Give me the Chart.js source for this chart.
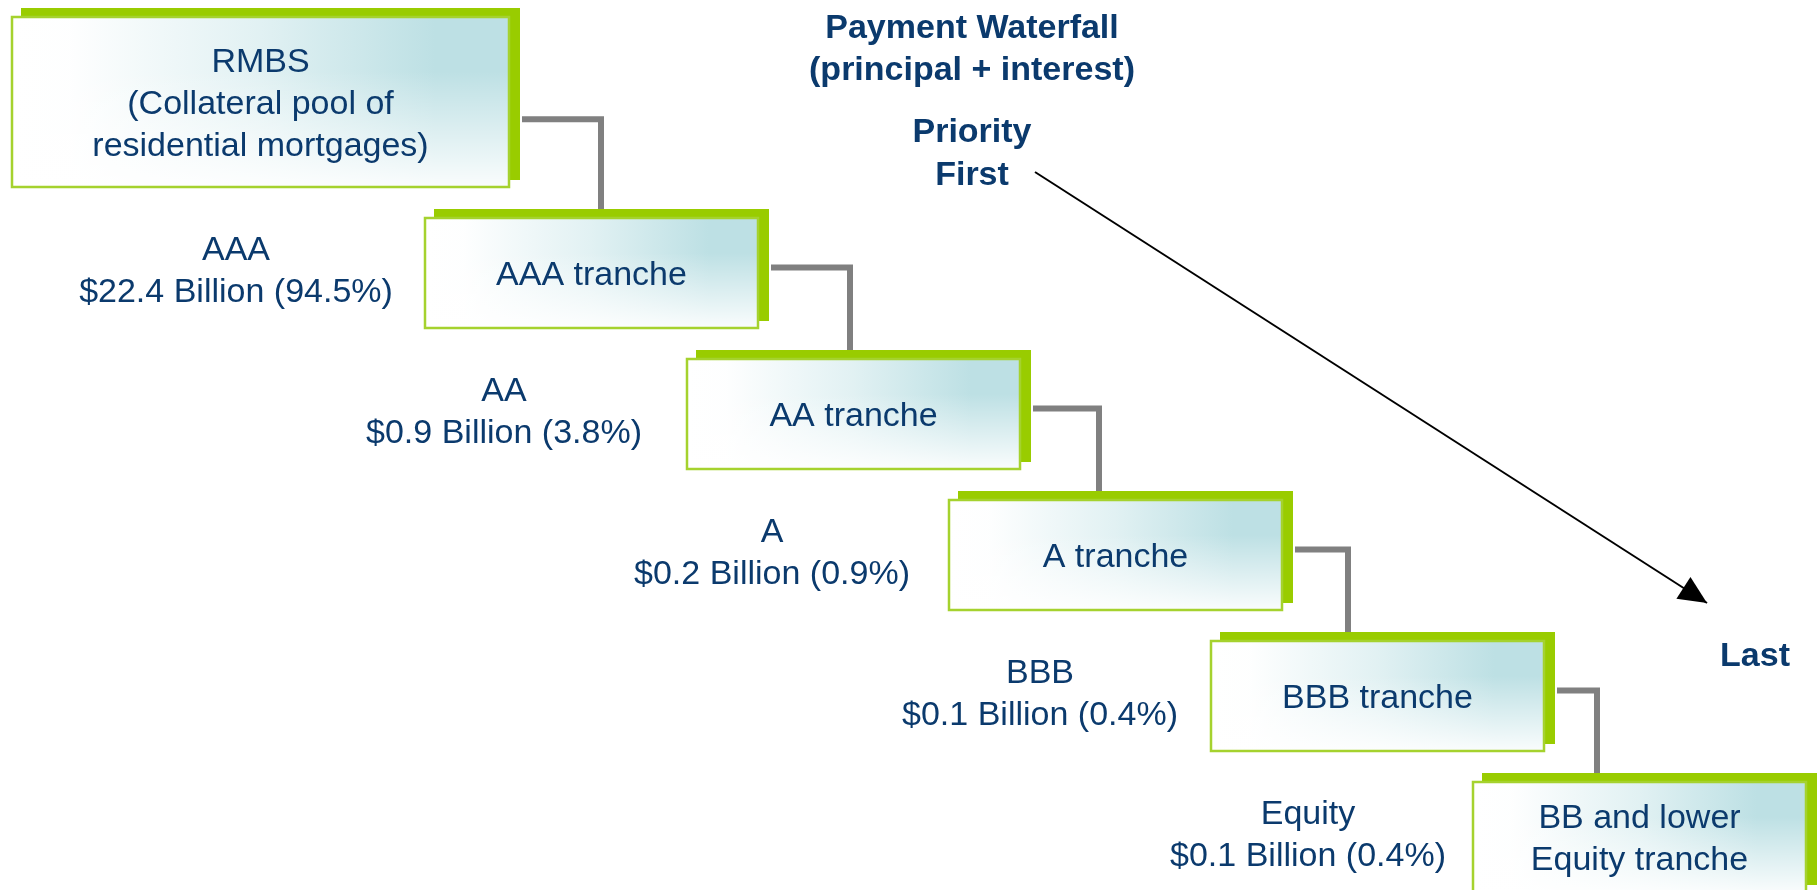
<!DOCTYPE html>
<html>
<head>
<meta charset="utf-8">
<script src="https://cdn.jsdelivr.net/npm/chart.js@4"></script>
<style>
  html, body { margin: 0; padding: 0; background: #ffffff; }
  #wrap { width: 1817px; height: 890px; position: relative; }
</style>
</head>
<body>
<div id="wrap"><canvas id="c"></canvas></div>
<script>
// ---------- DATA ----------
const titleLines = ['Payment Waterfall', '(principal + interest)'];
const priorityFirst = ['Priority', 'First'];
const priorityLast = 'Last';
const collateralLines = ['RMBS', '(Collateral pool of', 'residential mortgages)'];
const ratings = ['AAA', 'AA', 'A', 'BBB', 'Equity'];
const trancheNames = ['AAA tranche', 'AA tranche', 'A tranche', 'BBB tranche', 'BB and lower\nEquity tranche'];
const amountsBn = [22.4, 0.9, 0.2, 0.1, 0.1];
const sharesPct = [94.5, 3.8, 0.9, 0.4, 0.4];

// ---------- LAYOUT / STYLE (axis units = canvas units) ----------
const AXIS_W = 1817, AXIS_H = 890;
const POOL = { x: 11, y: 16, w: 499, h: 172, linkFrac: 0.6 };
const CASCADE = {
  x0: 424, y0: 217, stepX: 262, stepY: 141, w: 335, h: 112, linkFrac: 0.45,
  linkX0: 601, linkStepX: 249,
  labelX0: 236, labelStepX: 268, labelDY: -4
};
const SHADOW = { dx: 10, dy: -8 };
const LINE_GAP = 42, CAP_HALF = 12;
const TITLE_POS = { x: 972, y: 38 };
const PRIORITY_POS = { x: 972, y: 142 };
const LAST_POS = { x: 1755, y: 666 };
const ARROW = { from: { x: 1035, y: 172 }, to: { x: 1707, y: 603 }, head: 28, halfW: 13 };
const NAVY = '#0b3a6d', GREEN = '#99cc00', BORDER = '#a5d22e', LINK = '#808080';
const FONT = '"Liberation Sans", Arial, Helvetica, sans-serif';

// box geometry derived from tier index
function trancheBox(i) {
  return { x: CASCADE.x0 + i * CASCADE.stepX, y: CASCADE.y0 + i * CASCADE.stepY,
           w: CASCADE.w, h: CASCADE.h, linkFrac: CASCADE.linkFrac };
}
const boxes = [POOL].concat(ratings.map((_, i) => trancheBox(i)));

// connector polylines (through the chart's linear scales)
const connectorSets = [];
for (let k = 0; k < ratings.length; k++) {
  const a = boxes[k], b = boxes[k + 1];
  const sy = a.y + a.h * a.linkFrac;
  const sx = a.x + a.w + SHADOW.dx + 2;
  const vx = CASCADE.linkX0 + k * CASCADE.linkStepX;
  const ey = b.y + SHADOW.dy + 2;
  connectorSets.push({
    data: [{ x: sx, y: sy }, { x: vx, y: sy }, { x: vx, y: ey }],
    showLine: true, borderColor: LINK, borderWidth: 6, pointRadius: 0,
    borderJoinStyle: 'miter', borderCapStyle: 'butt', tension: 0, fill: false
  });
}
const arrowSet = {
  data: [ARROW.from, ARROW.to], showLine: true, borderColor: '#000000',
  borderWidth: 2, pointRadius: 0, tension: 0, fill: false
};

function drawBox(ctx, X, Y, w, h) {
  ctx.save();
  ctx.fillStyle = GREEN;
  ctx.fillRect(X + SHADOW.dx, Y + SHADOW.dy, w, h);
  ctx.fillStyle = '#ffffff';
  ctx.fillRect(X, Y, w, h);
  const g = ctx.createLinearGradient(X, 0, X + w, 0);
  g.addColorStop(0, 'rgba(189,224,228,0)');
  g.addColorStop(0.12, 'rgba(189,224,228,0.02)');
  g.addColorStop(0.5, 'rgba(189,224,228,0.45)');
  g.addColorStop(0.85, 'rgba(189,224,228,1)');
  g.addColorStop(1, 'rgba(189,224,228,1)');
  ctx.fillStyle = g;
  ctx.fillRect(X, Y, w, h);
  const v = ctx.createLinearGradient(0, Y, 0, Y + h);
  v.addColorStop(0, 'rgba(255,255,255,0)');
  v.addColorStop(0.32, 'rgba(255,255,255,0)');
  v.addColorStop(1, 'rgba(255,255,255,0.93)');
  ctx.fillStyle = v;
  ctx.fillRect(X, Y, w, h);
  ctx.strokeStyle = BORDER;
  ctx.lineWidth = 2.5;
  ctx.strokeRect(X + 1, Y + 1, w - 2, h - 2);
  ctx.restore();
}

function drawLines(ctx, lines, cx, cy, font) {
  ctx.font = font;
  ctx.fillStyle = NAVY;
  ctx.textAlign = 'center';
  ctx.textBaseline = 'alphabetic';
  const n = lines.length;
  lines.forEach((t, k) => {
    ctx.fillText(t, cx, cy + (k - (n - 1) / 2) * LINE_GAP + CAP_HALF);
  });
}

const diagramPlugin = {
  id: 'diagram',
  afterDatasetsDraw(chart) {
    const ctx = chart.ctx;
    const xs = chart.scales.x, ys = chart.scales.y;
    const px = v => xs.getPixelForValue(v), py = v => ys.getPixelForValue(v);
    const normal = '34px ' + FONT, bold = 'bold 34px ' + FONT;

    // boxes
    boxes.forEach(b => {
      const X = px(b.x), Y = py(b.y);
      const w = px(b.x + b.w) - X, h = py(b.y + b.h) - Y;
      drawBox(ctx, X, Y, w, h);
    });

    // pool text
    drawLines(ctx, collateralLines, px(POOL.x + POOL.w / 2), py(POOL.y + POOL.h / 2), normal);

    // tranche texts and rating labels
    ratings.forEach((r, i) => {
      const b = boxes[i + 1];
      const cx = px(b.x + b.w / 2), cy = py(b.y + b.h / 2);
      drawLines(ctx, trancheNames[i].split('\n'), cx, cy, normal);
      const label = [r, '$' + amountsBn[i].toFixed(1) + ' Billion (' + sharesPct[i].toFixed(1) + '%)'];
      drawLines(ctx, label, px(CASCADE.labelX0 + i * CASCADE.labelStepX),
                py(b.y + b.h / 2 + CASCADE.labelDY), normal);
    });

    // titles
    ctx.font = bold; ctx.fillStyle = NAVY; ctx.textAlign = 'center'; ctx.textBaseline = 'alphabetic';
    titleLines.forEach((t, k) => ctx.fillText(t, px(TITLE_POS.x), py(TITLE_POS.y + k * LINE_GAP)));
    priorityFirst.forEach((t, k) => ctx.fillText(t, px(PRIORITY_POS.x), py(PRIORITY_POS.y + k * 43)));
    ctx.fillText(priorityLast, px(LAST_POS.x), py(LAST_POS.y));

    // arrow head
    const sx = px(ARROW.from.x), sy = py(ARROW.from.y);
    const tx = px(ARROW.to.x), ty = py(ARROW.to.y);
    const len = Math.hypot(tx - sx, ty - sy);
    const ux = (tx - sx) / len, uy = (ty - sy) / len;
    const bx = tx - ux * ARROW.head, by = ty - uy * ARROW.head;
    ctx.save();
    ctx.fillStyle = '#000000';
    ctx.beginPath();
    ctx.moveTo(tx, ty);
    ctx.lineTo(bx - uy * ARROW.halfW, by + ux * ARROW.halfW);
    ctx.lineTo(bx + uy * ARROW.halfW, by - ux * ARROW.halfW);
    ctx.closePath();
    ctx.fill();
    ctx.restore();
  }
};

new Chart(document.getElementById('c'), {
  type: 'scatter',
  data: { datasets: connectorSets.concat([arrowSet]) },
  options: {
    responsive: true,
    maintainAspectRatio: false,
    devicePixelRatio: 1,
    animation: false,
    layout: { padding: 0 },
    plugins: { legend: { display: false }, tooltip: { enabled: false }, title: { display: false } },
    scales: {
      x: { type: 'linear', min: 0, max: AXIS_W, display: false },
      y: { type: 'linear', min: 0, max: AXIS_H, reverse: true, display: false }
    },
    events: []
  },
  plugins: [diagramPlugin]
});
</script>
</body>
</html>
